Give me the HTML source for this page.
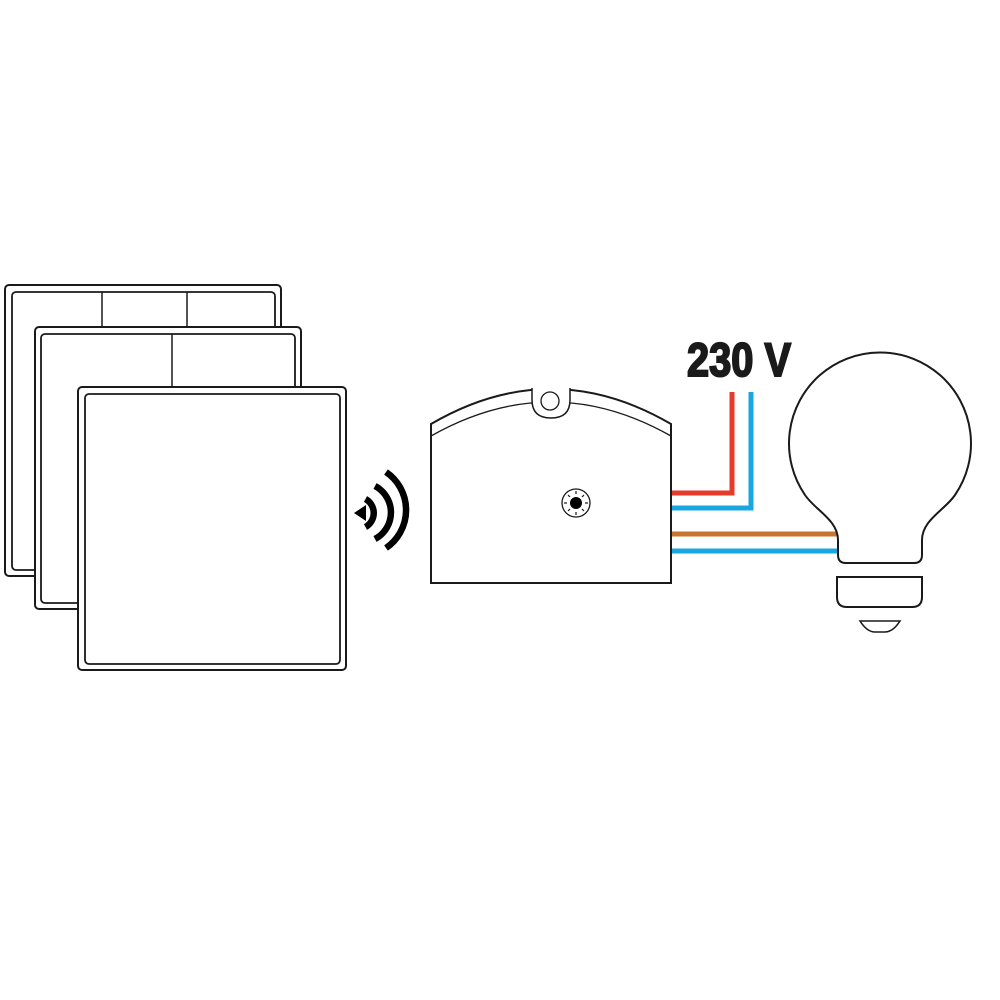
<!DOCTYPE html>
<html><head><meta charset="utf-8"><style>
html,body{margin:0;padding:0;background:#fff;width:1000px;height:1000px;overflow:hidden}
</style></head><body>
<svg width="1000" height="1000" viewBox="0 0 1000 1000" xmlns="http://www.w3.org/2000/svg">
<g fill="#fff" stroke="#1a1a1a" stroke-width="2">
  <!-- panel 1 -->
  <rect x="5" y="285" width="276" height="291" rx="4"/>
  <rect x="12" y="292" width="263" height="278" rx="4" stroke-width="1.8"/>
  <line x1="102" y1="292" x2="102" y2="327" stroke-width="1.5"/>
  <line x1="187" y1="292" x2="187" y2="327" stroke-width="1.5"/>
  <!-- panel 2 -->
  <rect x="35" y="327" width="266" height="282" rx="4"/>
  <rect x="41" y="334" width="254" height="269" rx="4" stroke-width="1.8"/>
  <line x1="172" y1="334" x2="172" y2="387" stroke-width="1.5"/>
  <!-- panel 3 -->
  <rect x="78" y="387" width="268" height="283" rx="4"/>
  <rect x="85" y="394" width="255" height="270" rx="4" stroke-width="1.8"/>
</g>
<!-- wifi -->
<g fill="none" stroke="#000" stroke-width="6.5">
  <path d="M 365.5 499 A 16 16 0 0 1 365.5 527" />
  <path d="M 375 486 A 30 30 0 0 1 375 539" />
  <path d="M 386 472 A 46 46 0 0 1 386 548" />
</g>
<path d="M 354 513 L 366 505 L 366 521 Z" fill="#000"/>
<!-- wires -->
<g fill="none" stroke-width="5">
  <path d="M 671 493 L 732 493 L 732 392" stroke="#e63a2b"/>
  <path d="M 671 508 L 751 508 L 751 392" stroke="#18a7e0"/>
  <path d="M 671 534 L 839 534" stroke="#c8732e"/>
  <path d="M 671 551 L 840 551" stroke="#18a7e0"/>
</g>
<!-- module -->
<g stroke="#1a1a1a" fill="#fff">
  <path d="M 431 583 L 431 424 Q 551 354 671 424 L 671 583 Z" stroke-width="2"/>
  <path d="M 431 436 Q 551 368 671 436" fill="none" stroke-width="1.3"/>
  <path d="M 532 388 L 532 400 Q 532 418 551 418 Q 570 418 570 400 L 570 388" stroke-width="1.5"/>
  <circle cx="550" cy="401" r="9" stroke-width="1.3"/>
  <circle cx="576" cy="503" r="14" stroke-width="1.3"/>
  <circle cx="576" cy="503" r="6" fill="#000" stroke="none"/>
  <g stroke-width="1.2">
    <line x1="576" y1="491" x2="576" y2="494"/>
    <line x1="576" y1="512" x2="576" y2="515"/>
    <line x1="564" y1="503" x2="567" y2="503"/>
    <line x1="585" y1="503" x2="588" y2="503"/>
    <line x1="568" y1="495" x2="570" y2="497"/>
    <line x1="582" y1="509" x2="584" y2="511"/>
    <line x1="584" y1="495" x2="582" y2="497"/>
    <line x1="570" y1="509" x2="568" y2="511"/>
  </g>
</g>
<!-- text -->
<text x="687" y="376" font-family="'Liberation Sans', sans-serif" font-weight="bold" font-size="47" fill="#1a1a1a" stroke="#1a1a1a" stroke-width="2" textLength="104" lengthAdjust="spacingAndGlyphs">230 V</text>
<!-- bulb -->
<g fill="#fff" stroke="#1a1a1a" stroke-width="2">
  <path d="M 838 555 L 838 540 C 838 520 815 510 805 495 A 91 91 0 1 1 955 495 C 945 510 922 520 922 540 L 922 555 Q 922 563 914 563 L 846 563 Q 838 563 838 555 Z"/>
  <path d="M 837 577 L 922 577 L 922 597 Q 922 607 912 607 L 847 607 Q 837 607 837 597 Z"/>
  <path d="M 860 621 L 900 621 Q 893 632 885 632 L 875 632 Q 867 632 860 621 Z" stroke-width="1.6"/>
</g>
</svg>
</body></html>
